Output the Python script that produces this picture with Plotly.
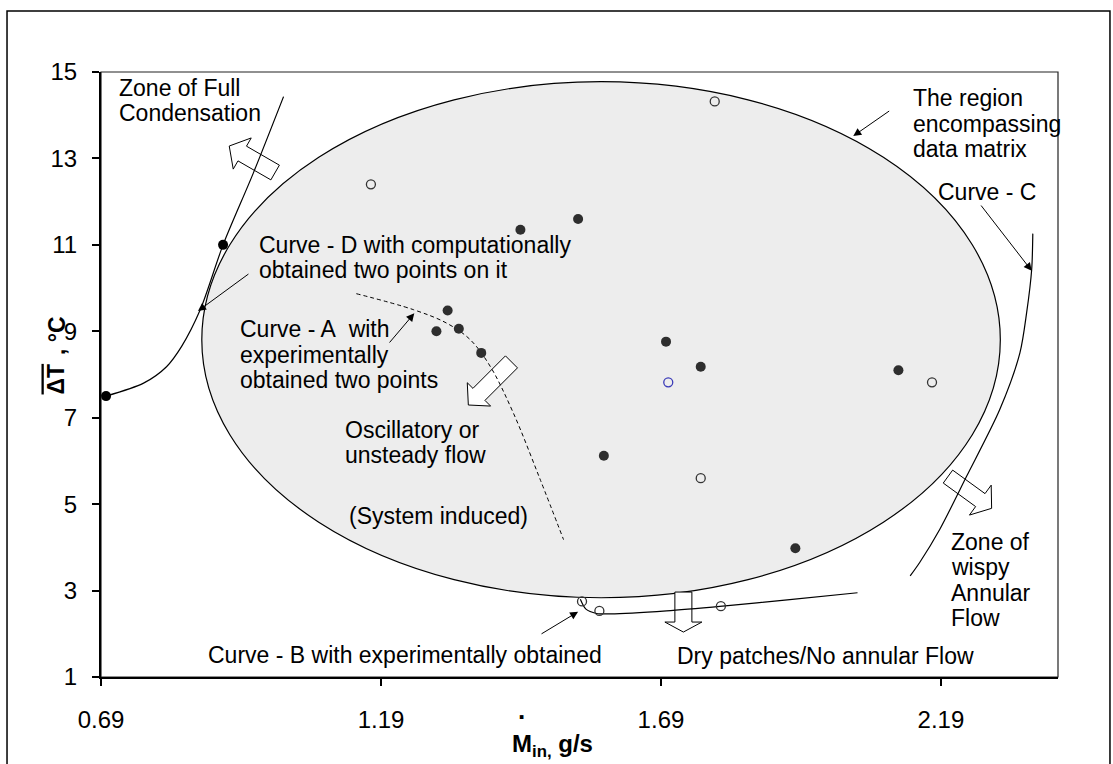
import math
import plotly.graph_objects as go

# ---------------- axes ----------------
X_RANGE = [0.69, 2.399]
Y_RANGE = [1, 15]
X_TICKS = [0.69, 1.19, 1.69, 2.19]
X_TICK_TEXT = ["0.69", "1.19", "1.69", "2.19"]
Y_TICKS = [1, 3, 5, 7, 9, 11, 13, 15]

# ---------------- measured data ----------------
# experimental runs (filled markers)
run_x = [1.439, 1.542, 1.309, 1.289, 1.329, 1.369, 1.588, 1.699, 1.761, 1.930, 2.114]
run_y = [11.35, 11.60, 9.48, 9.00, 9.06, 8.50, 6.12, 8.76, 8.18, 3.98, 8.10]

# runs shown with open markers
open_x = [1.172, 1.786, 1.761, 2.174, 1.549, 1.580, 1.797]
open_y = [12.40, 14.32, 5.60, 7.82, 2.75, 2.53, 2.64]

blue_x = [1.703]
blue_y = [7.82]

# computationally obtained points on curve D
calc_x = [0.699, 0.908]
calc_y = [7.50, 11.00]

# boundary curves
curve_d_x = [0.699, 0.766, 0.807, 0.834, 0.867, 0.908, 0.962, 1.016]
curve_d_y = [7.50, 7.80, 8.18, 8.65, 9.49, 11.00, 12.66, 14.43]

curve_a_x = [1.146, 1.248, 1.307, 1.349, 1.385, 1.426, 1.474, 1.516]
curve_a_y = [9.87, 9.50, 9.19, 8.81, 8.19, 7.12, 5.58, 4.18]

curve_b_x = [1.546, 1.556, 1.575, 1.600, 1.700, 1.800, 1.920, 2.041]
curve_b_y = [2.80, 2.57, 2.47, 2.46, 2.53, 2.64, 2.79, 2.95]

curve_c_x = [2.354, 2.352, 2.343, 2.331, 2.295, 2.236, 2.188, 2.152, 2.135]
curve_c_y = [11.26, 10.43, 9.43, 8.50, 7.19, 5.65, 4.42, 3.65, 3.34]

# region encompassing the data matrix
region_x = [0.870, 2.296]
region_y = [2.834, 14.775]

# ---------------- styling ----------------
FONT = "Arial, 'Liberation Sans', sans-serif"
TXT = 23
TICK = 24
LINE_PITCH = 25.5  # px between lines of a note

fig = go.Figure()

line_style = dict(color="black", width=1.2, shape="spline", smoothing=0.8)
fig.add_trace(go.Scatter(x=curve_d_x, y=curve_d_y, mode="lines", line=line_style, hoverinfo="skip"))
fig.add_trace(go.Scatter(x=curve_c_x, y=curve_c_y, mode="lines", line=line_style, hoverinfo="skip"))
fig.add_trace(go.Scatter(x=curve_b_x, y=curve_b_y, mode="lines", line=line_style, hoverinfo="skip"))
fig.add_trace(go.Scatter(x=curve_a_x, y=curve_a_y, mode="lines",
                         line=dict(color="black", width=1, dash="4px,3px", shape="spline"),
                         hoverinfo="skip"))

fig.add_trace(go.Scatter(x=run_x, y=run_y, mode="markers",
                         marker=dict(size=10, color="#2e2e2e")))
fig.add_trace(go.Scatter(x=open_x, y=open_y, mode="markers",
                         marker=dict(size=9, symbol="circle-open", color="#333333",
                                     line=dict(width=1.3))))
fig.add_trace(go.Scatter(x=blue_x, y=blue_y, mode="markers",
                         marker=dict(size=9, symbol="circle-open", color="#3a3ab8",
                                     line=dict(width=1.3))))
fig.add_trace(go.Scatter(x=calc_x, y=calc_y, mode="markers",
                         marker=dict(size=10, color="black")))

shapes = []
# outer frame
shapes.append(dict(type="rect", xref="paper", yref="paper", x0=-0.0982, x1=1.0543,
                   y0=-0.17, y1=1.1008, line=dict(color="black", width=1.5), layer="below"))
# plot border
shapes.append(dict(type="rect", xref="paper", yref="paper", x0=0, x1=1, y0=0, y1=1,
                   line=dict(color="#222222", width=1.2), layer="below"))
# data region ellipse
shapes.append(dict(type="circle", xref="x", yref="y",
                   x0=region_x[0], x1=region_x[1], y0=region_y[0], y1=region_y[1],
                   fillcolor="#ededed", line=dict(color="black", width=1.2), layer="below"))


def block_arrow(angle_deg, head_len, head_w, shaft_w, shaft_len):
    """Outline of a hollow block arrow, tip at the origin, in pixels (y up)."""
    a = math.radians(angle_deg)
    ux, uy = math.cos(a), math.sin(a)
    nx, ny = -uy, ux
    bx, by = -ux * head_len, -uy * head_len
    tx, ty = -ux * (head_len + shaft_len), -uy * (head_len + shaft_len)
    pts = [
        (0, 0),
        (bx + nx * head_w / 2, by + ny * head_w / 2),
        (bx + nx * shaft_w / 2, by + ny * shaft_w / 2),
        (tx + nx * shaft_w / 2, ty + ny * shaft_w / 2),
        (tx - nx * shaft_w / 2, ty - ny * shaft_w / 2),
        (bx - nx * shaft_w / 2, by - ny * shaft_w / 2),
        (bx - nx * head_w / 2, by - ny * head_w / 2),
    ]
    return "M" + " L".join(f"{px:.2f},{py:.2f}" for px, py in pts) + " Z"


# (tip x, tip y, direction deg, head length, head width, shaft width, shaft length)
block_arrows = [
    (0.919, 13.287, 150, 15, 36, 17, 38),   # towards full condensation
    (1.346, 7.294, 225, 15, 33, 17, 46),    # towards oscillatory flow
    (2.2805, 4.903, -36, 14, 37, 16, 40),   # towards wispy annular flow
    (1.730, 2.040, -90, 10, 37, 17, 30),    # towards dry patches
]
for ax_, ay_, ang, hl, hw, sw, sl in block_arrows:
    shapes.append(dict(type="path", xref="x", yref="y", xsizemode="pixel", ysizemode="pixel",
                       xanchor=ax_, yanchor=ay_, path=block_arrow(ang, hl, hw, sw, sl),
                       fillcolor="white", line=dict(color="black", width=1), layer="below"))

annotations = []

notes = [
    (0.7186, 14.63, ["Zone of Full", "Condensation"]),
    (2.136, 14.39, ["The region", "encompassing", "data matrix"]),
    (2.182, 12.23, ["Curve - C"]),
    (0.969, 11.00, ["Curve - D with computationally", "obtained two points on it"]),
    (0.935, 9.05, ["Curve - A  with", "experimentally", "obtained two points"]),
    (1.123, 6.72, ["Oscillatory or", "unsteady flow"]),
    (1.129, 4.73, ["(System induced)"]),
    (2.204, 4.13, ["Zone of", "wispy", "Annular", "Flow"]),
    (0.8775, 1.51, ["Curve - B with experimentally obtained"]),
    (1.7155, 1.49, ["Dry patches/No annular Flow"]),
]
for nx_, ny_, lines in notes:
    for i, t in enumerate(lines):
        annotations.append(dict(x=nx_, y=ny_, xref="x", yref="y", text=t.replace("  ", "&nbsp; "),
                                showarrow=False, xanchor="left", yanchor="middle",
                                yshift=-i * LINE_PITCH,
                                font=dict(family=FONT, size=TXT, color="black")))

# pointer arrows: (head x, head y, tail x, tail y)
pointers = [
    (2.0334, 13.519, 2.1002, 14.121),
    (2.352, 10.40, 2.2596, 11.945),
    (0.8632, 9.469, 0.956, 10.35),
    (1.2495, 9.416, 1.203, 8.705),
    (1.542, 2.51, 1.474, 1.978),
]
for hx, hy, tx, ty in pointers:
    annotations.append(dict(x=hx, y=hy, ax=tx, ay=ty, xref="x", yref="y", axref="x", ayref="y",
                            text="", showarrow=True, arrowhead=2, arrowsize=1.6, arrowwidth=1,
                            arrowcolor="black", standoff=0))

# axis titles
annotations.append(dict(x=-0.046, y=0.4934, xref="paper", yref="paper", text="ΔT",
                        textangle=-90, showarrow=False, xanchor="center", yanchor="middle",
                        font=dict(family=FONT, size=23, color="black", weight="bold",
                                  lineposition="over")))
annotations.append(dict(x=-0.046, y=0.5653, xref="paper", yref="paper", text=", °C",
                        textangle=-90, showarrow=False, xanchor="center", yanchor="middle",
                        font=dict(family=FONT, size=23, color="black", weight="bold")))
annotations.append(dict(x=0.472, y=-0.113, xref="paper", yref="paper",
                        text="<b>M<sub>in,</sub> g/s</b>", showarrow=False,
                        xanchor="center", yanchor="middle",
                        font=dict(family=FONT, size=24, color="black")))
annotations.append(dict(x=0.439, y=-0.0826, xref="paper", yref="paper", text="<b>.</b>",
                        showarrow=False, xanchor="center", yanchor="bottom",
                        font=dict(family=FONT, size=26, color="black")))

fig.update_layout(
    width=1113, height=764,
    margin=dict(l=101, r=55, t=72, b=87),
    paper_bgcolor="white", plot_bgcolor="white",
    showlegend=False,
    shapes=shapes, annotations=annotations,
    font=dict(family=FONT, color="black"),
)
fig.update_xaxes(range=X_RANGE, tickvals=X_TICKS, ticktext=X_TICK_TEXT, showgrid=False,
                 zeroline=False, showline=True, linecolor="black", linewidth=2,
                 ticks="outside", ticklen=7, tickwidth=1.5, tickcolor="black",
                 tickfont=dict(family=FONT, size=TICK, color="black"), ticklabelstandoff=13)
fig.update_yaxes(range=Y_RANGE, tickvals=Y_TICKS, showgrid=False, zeroline=False,
                 showline=True, linecolor="black", linewidth=2,
                 ticks="outside", ticklen=7, tickwidth=1.5, tickcolor="black",
                 tickfont=dict(family=FONT, size=TICK, color="black"), ticklabelstandoff=10)

fig.write_html("out.html")
